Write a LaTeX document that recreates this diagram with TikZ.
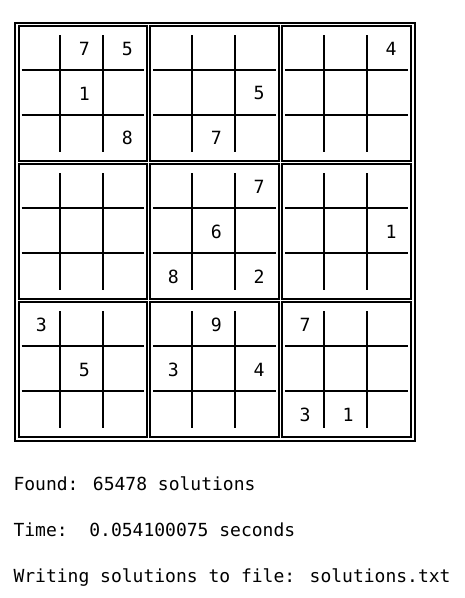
\documentclass[tikz,border=0pt]{standalone}
\usepackage{fontspec}
\usepackage{tikz}
\usetikzlibrary{positioning,calc}
\newfontfamily\codefont{DejaVu Sans Mono}

\begin{document}
\begin{tikzpicture}[x=1pt,y=-1pt,line width=2pt,
    block/.style={draw,rectangle,inner sep=0pt,minimum width=128.6pt,minimum height=134.8pt},
    digit/.style={inner sep=0pt,xshift=1.5pt,font=\codefont\fontsize{18.2}{22}\selectfont},
    txt/.style={inner sep=0pt,anchor=base west,font=\codefont\fontsize{18}{22}\selectfont}]

    \useasboundingbox (0,0) rectangle (465,598);

    % outer frame
    \draw (15,23) rectangle (414.5,440.5);

    % the nine blocks with their inner lines
    \foreach \bi in {0,1,2}
    {
        \foreach \bj in {0,1,2}
        {
            \node[block] (b\bi\bj) at ({82.8+131.9*\bj},{93.4+138.1*\bi}) {};
            \draw ($(b\bi\bj.north west)+(42.87,10)$) -- ($(b\bi\bj.south west)+(42.87,-10)$);
            \draw ($(b\bi\bj.north west)+(85.73,10)$) -- ($(b\bi\bj.south west)+(85.73,-10)$);
            \draw ($(b\bi\bj.north west)+(4,44.93)$) -- ($(b\bi\bj.north east)+(-4,44.93)$);
            \draw ($(b\bi\bj.north west)+(4,89.87)$) -- ($(b\bi\bj.north east)+(-4,89.87)$);
        }
    }

    % givens
    \node[digit] (r1c2) at (82.9,48.5) {7};
    \node[digit] (r1c3) at (125.8,48.5) {5};
    \node[digit] (r2c2) at (82.9,93.4) {1};
    \node[digit] (r3c3) at (125.8,138.3) {8};
    \node[digit] (r2c6) at (257.7,93.4) {5};
    \node[digit] (r3c5) at (214.8,138.3) {7};
    \node[digit] (r1c9) at (389.6,48.5) {4};

    \node[digit] (r4c6) at (257.7,186.6) {7};
    \node[digit] (r5c5) at (214.8,231.5) {6};
    \node[digit] (r6c4) at (171.8,276.4) {8};
    \node[digit] (r6c6) at (257.7,276.4) {2};
    \node[digit] (r5c9) at (389.6,231.5) {1};

    \node[digit] (r7c1) at (39.9,324.7) {3};
    \node[digit] (r8c2) at (82.9,369.6) {5};
    \node[digit] (r7c5) at (214.8,324.7) {9};
    \node[digit] (r8c4) at (171.8,369.6) {3};
    \node[digit] (r8c6) at (257.7,369.6) {4};
    \node[digit] (r7c7) at (303.7,324.7) {7};
    \node[digit] (r9c7) at (303.7,414.5) {3};
    \node[digit] (r9c8) at (346.7,414.5) {1};

    % program output
    \node[txt] (found) at (12.5,490.5) {Found: 65478 solutions};
    \node[txt, below=46pt of found.base west, anchor=base west] (time) {Time:~~0.054100075 seconds};
    \node[txt, below=46pt of time.base west, anchor=base west] (writing) {Writing solutions to file: solutions.txt};
\end{tikzpicture}
\end{document}
